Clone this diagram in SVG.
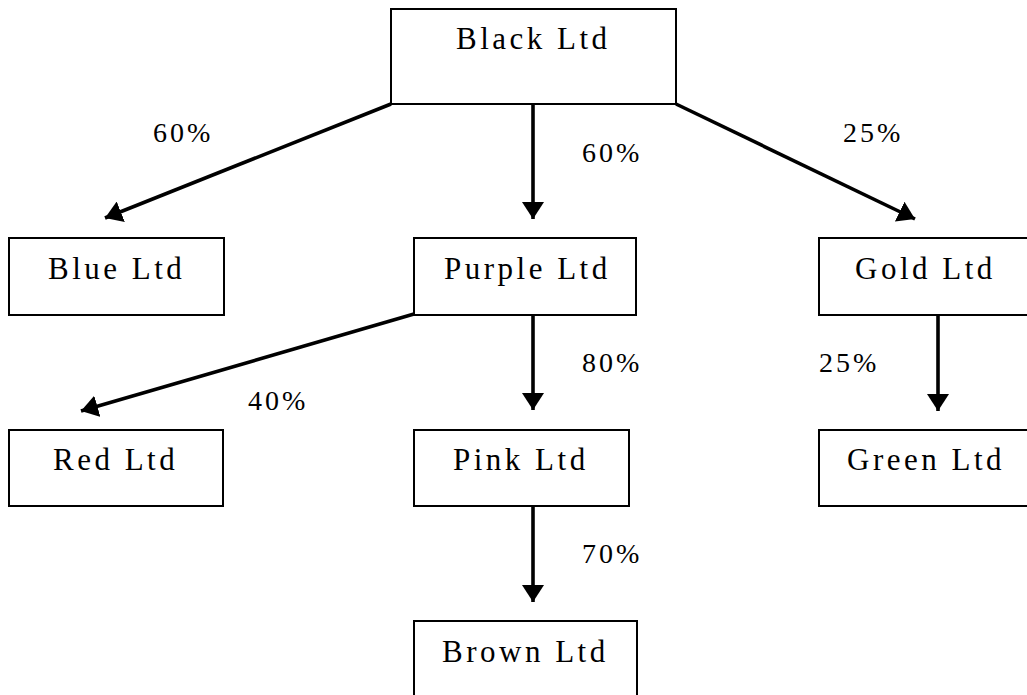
<svg xmlns="http://www.w3.org/2000/svg" width="1027" height="695" viewBox="0 0 1027 695">
<style>
.box{fill:#fff;stroke:#000;stroke-width:2}
.name{font-family:"Liberation Serif","Times New Roman",serif;font-size:31px;letter-spacing:3.5px;fill:#000}
.pct{font-family:"Liberation Serif","Times New Roman",serif;font-size:28px;letter-spacing:3px;fill:#000}
.arr{stroke:#000;stroke-width:3.6;fill:none;marker-end:url(#ah)}
</style>
<defs>
<marker id="ah" markerUnits="userSpaceOnUse" viewBox="0 0 17 22" refX="17" refY="11" markerWidth="17" markerHeight="22" orient="auto">
<path d="M0,0 L17,11 L0,22 z" fill="#000"/>
</marker>
</defs>
<rect width="1027" height="695" fill="#fff"/>
<g id="connectors">
<line class="arr" x1="391" y1="104" x2="105" y2="218"/>
<line class="arr" x1="533" y1="104" x2="533" y2="219"/>
<line class="arr" x1="676" y1="104" x2="915" y2="219"/>
<line class="arr" x1="414" y1="314" x2="81" y2="411"/>
<line class="arr" x1="533" y1="315" x2="533" y2="410"/>
<line class="arr" x1="938" y1="315" x2="938" y2="411"/>
<line class="arr" x1="533" y1="506" x2="533" y2="602"/>
<text class="pct" x="153" y="142">60%</text>
<text class="pct" x="582" y="162">60%</text>
<text class="pct" x="843" y="142">25%</text>
<text class="pct" x="582" y="372">80%</text>
<text class="pct" x="819" y="372">25%</text>
<text class="pct" x="248" y="410">40%</text>
<text class="pct" x="582" y="563">70%</text>
</g>
<g id="black"><rect class="box" x="391" y="9" width="285" height="95"/><text class="name" x="456" y="49">Black Ltd</text></g>
<g id="blue"><rect class="box" x="9" y="238" width="215" height="77"/><text class="name" x="48" y="279">Blue Ltd</text></g>
<g id="purple"><rect class="box" x="414" y="238" width="222" height="77"/><text class="name" x="444" y="279">Purple Ltd</text></g>
<g id="gold"><rect class="box" x="819" y="238" width="220" height="77"/><text class="name" x="855" y="279">Gold Ltd</text></g>
<g id="red"><rect class="box" x="9" y="430" width="214" height="76"/><text class="name" x="53" y="470">Red Ltd</text></g>
<g id="pink"><rect class="box" x="414" y="430" width="215" height="76"/><text class="name" x="453" y="470">Pink Ltd</text></g>
<g id="green"><rect class="box" x="819" y="430" width="220" height="76"/><text class="name" x="847" y="470">Green Ltd</text></g>
<g id="brown"><rect class="box" x="414" y="621" width="223" height="100"/><text class="name" x="442" y="662">Brown Ltd</text></g>
</svg>
